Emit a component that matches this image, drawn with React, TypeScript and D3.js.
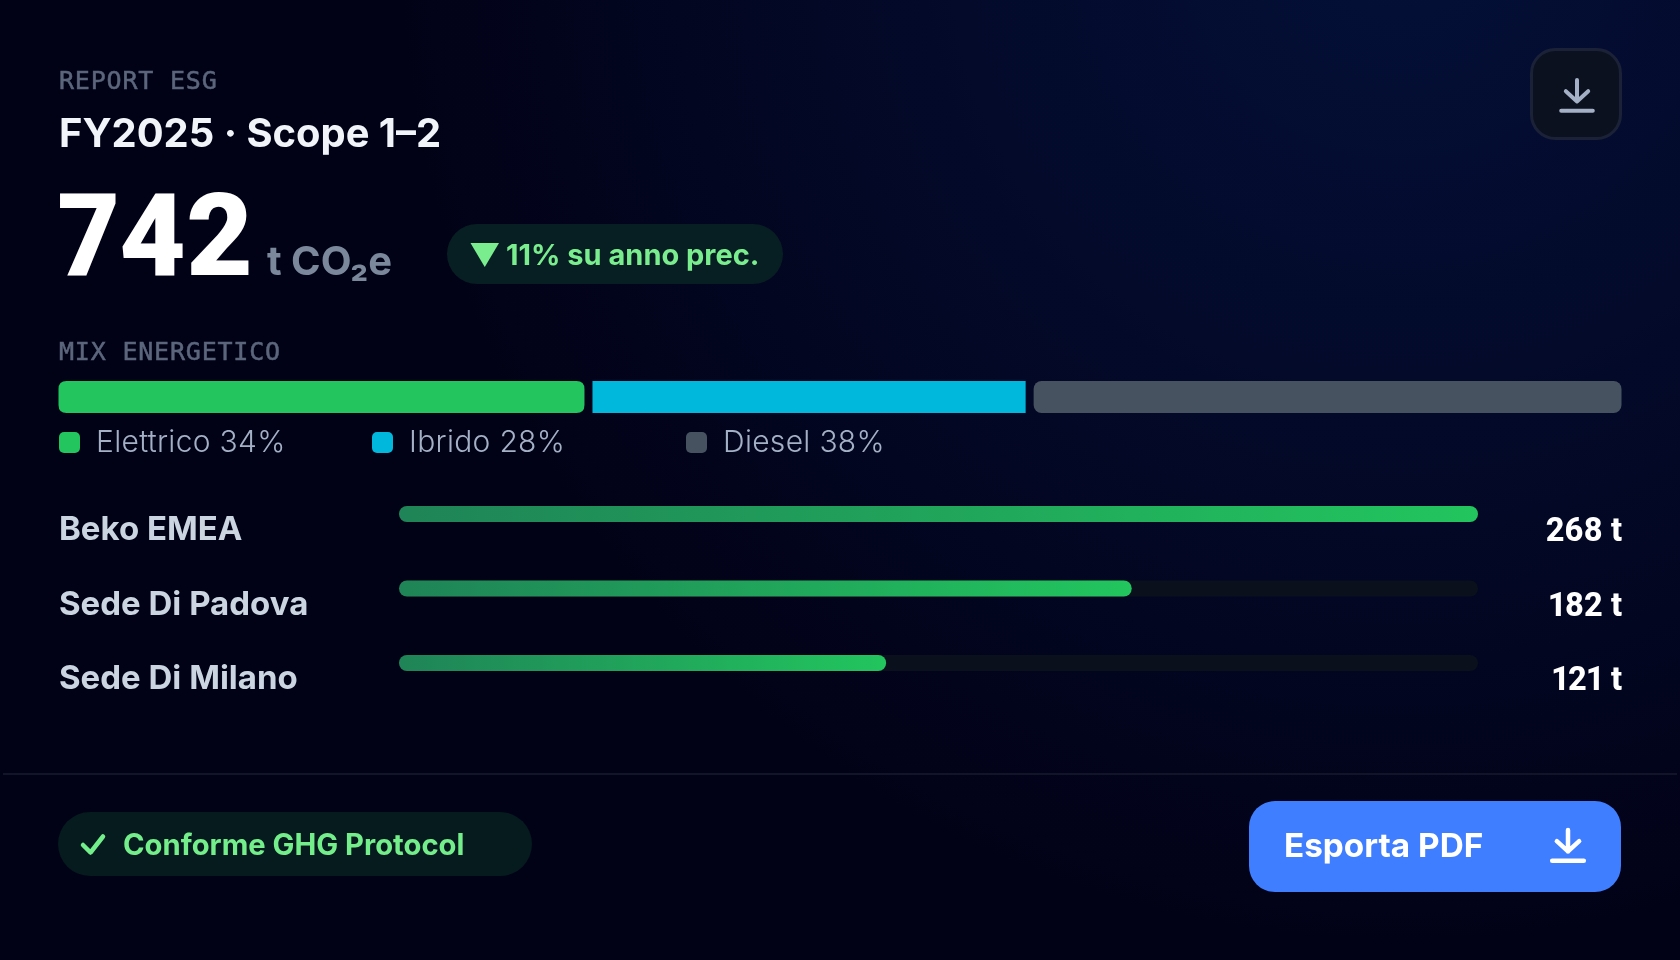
import React from "react";
import * as d3 from "d3";

const mixLabels = ["Elettrico", "Ibrido", "Diesel"];
const mixValues = [34, 28, 38];
const mixColors = ["#22c55e", "#00b8dc", "#475260"];
const legendX = [59, 372, 686];
const sites = ["Beko EMEA", "Sede Di Padova", "Sede Di Milano"];
const siteValues = [268, 182, 121];

const INTER = "Inter, sans-serif";
const ROBOTO = "Roboto, sans-serif";
const MONO = "'DejaVu Sans Mono', monospace";

const Icon = ({ cx, cy, s, color, w }: { cx: number; cy: number; s: number; color: string; w: number }) => (
  <g transform={`translate(${cx},${cy}) scale(${s})`} fill="none" stroke={color} strokeWidth={w / s} strokeLinecap="round" strokeLinejoin="round">
    <path d="M0,-15 V8 M-12,-3 L0,8 L12,-3 M-17,18 H17" />
  </g>
);

export default function App() {
  const gap = 8;
  const mixX0 = 58.5, mixX1 = 1621.5;
  const mixScale = d3.scaleLinear().domain([0, d3.sum(mixValues)]).range([0, mixX1 - mixX0 - gap * (mixValues.length - 1)]);
  let acc = mixX0;
  const segs = mixValues.map((v, i) => {
    const w = mixScale(v);
    const s = { x: acc, w, color: mixColors[i], i };
    acc += w + gap;
    return s;
  });
  const rowScale = d3.scaleLinear().domain([0, d3.max(siteValues) as number]).range([0, 1079]);
  const rowY = d3.scalePoint<string>().domain(sites).range([506, 655]);

  return (
    <svg width={1680} height={960} viewBox="0 0 1680 960" style={{ position: "fixed", left: 0, top: 0, display: "block" }}>
      <defs>
        <radialGradient id="bg" gradientUnits="userSpaceOnUse" cx={1400} cy={-60} r={1000}>
          <stop offset="0" stopColor="#041038" />
          <stop offset="0.45" stopColor="#030a2a" />
          <stop offset="1" stopColor="#020217" />
        </radialGradient>
        {siteValues.map((v, i) => (
          <linearGradient key={i} id={`fill${i}`} x1="0" x2="1" y1="0" y2="0">
            <stop offset="0" stopColor="#1f8457" />
            <stop offset="1" stopColor="#22c55e" />
          </linearGradient>
        ))}
      </defs>
      <rect width={1680} height={960} fill="url(#bg)" />

      <text x={59} y={89} fontFamily={MONO} fontSize={25} letterSpacing={0.8} fill="#5b667c" stroke="#5b667c" strokeWidth={0.5}>REPORT ESG</text>
      <text x={59} y={147} fontFamily={INTER} fontWeight={700} fontSize={39.9} fill="#f1f5f9">FY2025 · Scope 1–2</text>
      <text x={57} y={275} fontFamily={ROBOTO} fontWeight={900} fontSize={115} letterSpacing={0.5} fill="#ffffff" style={{ fontVariantNumeric: "proportional-nums" }}>742</text>
      <text x={267} y={275} fontFamily={INTER} fontWeight={700} fontSize={40} fill="#7b889c">t CO₂e</text>

      <rect x={447} y={224} width={336} height={60} rx={30} fill="#071f22" />
      <path d="M470.5,243 H499 L484.75,267 Z" fill="#7aee8f" />
      <text x={506} y={265} fontFamily={INTER} fontWeight={700} fontSize={29} fill="#7aee8f">11% su anno prec.</text>

      <rect x={1531.5} y={49.5} width={89} height={89} rx={24} fill="#0b111e" stroke="#1b2238" strokeWidth={3} />
      <Icon cx={1577} cy={94} s={0.93} color="#a3b0c6" w={4} />

      <text x={59} y={360} fontFamily={MONO} fontSize={25} letterSpacing={0.8} fill="#5b667c" stroke="#5b667c" strokeWidth={0.5}>MIX ENERGETICO</text>
      {segs.map((s) =>
        s.i === 0 ? (
          <path key={s.i} d={`M${s.x + 8},381 H${s.x + s.w - 8} Q${s.x + s.w},381 ${s.x + s.w},389 V405 Q${s.x + s.w},413 ${s.x + s.w - 8},413 H${s.x + 8} Q${s.x},413 ${s.x},405 V389 Q${s.x},381 ${s.x + 8},381 Z`} fill={s.color} />
        ) : s.i === 1 ? (
          <rect key={s.i} x={s.x} y={381} width={s.w} height={32} fill={s.color} />
        ) : (
          <rect key={s.i} x={s.x} y={381} width={s.w} height={32} rx={8} fill={s.color} />
        )
      )}
      {mixLabels.map((l, i) => (
        <g key={l}>
          <rect x={legendX[i]} y={432} width={21} height={21} rx={5} fill={mixColors[i]} />
          <text x={legendX[i] + 37} y={452} fontFamily={INTER} fontWeight={300} fontSize={30} letterSpacing={0.3} fill="#a3b0c6">{`${l} ${mixValues[i]}%`}</text>
        </g>
      ))}

      {sites.map((s, i) => {
        const y = rowY(s) as number;
        return (
          <g key={s}>
            <text x={59} y={y + 34} fontFamily={INTER} fontWeight={700} fontSize={33} fill="#cbd5e1">{s}</text>
            <rect x={399} y={y} width={1079} height={16} rx={8} fill="#0b111c" />
            <rect x={399} y={y} width={rowScale(siteValues[i])} height={16} rx={8} fill={`url(#fill${i})`} />
            <text x={1622} y={y + 35} textAnchor="end" fontFamily={ROBOTO} fontWeight={800} fontSize={32.5} fill="#ffffff" style={{ fontVariantNumeric: "proportional-nums" }}>{`${siteValues[i]} t`}</text>
          </g>
        );
      })}

      <rect x={3} y={773} width={1674} height={2} fill="#12142a" />

      <rect x={58} y={812} width={474} height={64} rx={32} fill="#051b1e" />
      <path d="M83,845 L90.5,852.5 L103,836.5" fill="none" stroke="#74ee8b" strokeWidth={4.5} strokeLinecap="round" strokeLinejoin="round" />
      <text x={123} y={855} fontFamily={INTER} fontWeight={700} fontSize={29.2} fill="#74ee8b">Conforme GHG Protocol</text>

      <rect x={1249} y={801} width={372} height={91} rx={26} fill="#3f7eff" />
      <text x={1284} y={857} fontFamily={INTER} fontWeight={700} fontSize={33.3} fill="#ffffff">Esporta PDF</text>
      <Icon cx={1568} cy={844} s={0.93} color="#ffffff" w={4.5} />
    </svg>
  );
}
